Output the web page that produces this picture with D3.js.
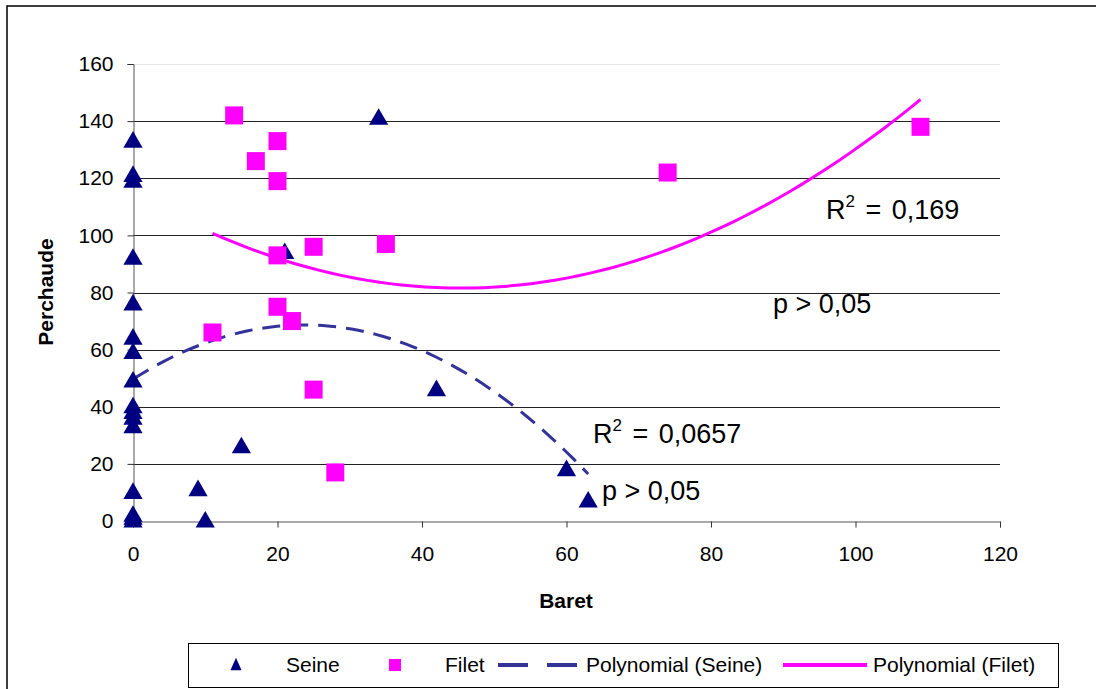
<!DOCTYPE html>
<html>
<head>
<meta charset="utf-8">
<script src="https://cdn.jsdelivr.net/npm/d3@7/dist/d3.min.js"></script>
<style>
  body { margin: 0; background: #fff; }
  text { font-family: "Liberation Sans", Arial, sans-serif; }
</style>
</head>
<body>
<svg id="chart" width="1096" height="689"></svg>
<script>
// Seine (triangles)
var seineX = [0, 0, 0, 0, 0, 0, 0, 0, 0, 0, 0, 0, 0, 0, 0, 0, 9, 10, 15, 21, 34, 42, 60, 63];
var seineY = [133, 121, 119, 92, 76, 64, 59, 49, 40, 38, 36, 33, 10, 2, 1, 0, 11, 0, 26, 94, 141, 46, 18, 7];
// Filet (squares)
var filetX = [14, 17, 20, 20, 20, 20, 22, 11, 25, 25, 28, 35, 74, 109];
var filetY = [142, 126, 133, 119, 93, 75, 70, 66, 96, 46, 17, 97, 122, 138];

var xTicks = [0, 20, 40, 60, 80, 100, 120];
var yTicks = [0, 20, 40, 60, 80, 100, 120, 140, 160];

var legendLabels = ["Seine", "Filet", "Polynomial (Seine)", "Polynomial (Filet)"];
var notes = ["R² = 0,169", "p > 0,05", "R² = 0,0657", "p > 0,05"];

var navy = "#000080", magenta = "#ff00ff", trendBlue = "#333399";

var svg = d3.select("#chart");

// outer frame
svg.append("path").attr("d", "M7,689V6H1096").attr("fill", "none")
  .attr("stroke", "#000").attr("stroke-width", 1.5);

var x = d3.scaleLinear().domain([0, 120]).range([133, 1000]);
var y = d3.scaleLinear().domain([0, 160]).range([521, 64]);

// gridlines
svg.append("g").selectAll("line").data(yTicks.filter(function (d) { return d > 0; }))
  .join("line")
  .attr("x1", 133).attr("x2", 1000)
  .attr("y1", function (d) { return Math.round(y(d)) + 0.5; })
  .attr("y2", function (d) { return Math.round(y(d)) + 0.5; })
  .attr("stroke", function (d) { return d == 160 ? "#e6e6e6" : "#222"; })
  .attr("stroke-width", 1);

// axes
var yAxis = svg.append("g").attr("transform", "translate(133.5,0)")
  .call(d3.axisLeft(y).tickValues(yTicks).tickSize(6).tickPadding(14).tickFormat(d3.format("d")));
var xAxis = svg.append("g").attr("transform", "translate(0,521.5)")
  .call(d3.axisBottom(x).tickValues(xTicks).tickSize(6).tickPadding(19).tickFormat(d3.format("d")));
[xAxis, yAxis].forEach(function (a) {
  a.select(".domain").attr("stroke", "#555");
  a.selectAll(".tick line").attr("stroke", "#333");
  a.selectAll("text").attr("font-size", 21).attr("fill", "#000")
    .attr("font-family", "Liberation Sans, Arial, sans-serif");
});

// axis titles
svg.append("text").attr("x", 566).attr("y", 608).attr("text-anchor", "middle")
  .attr("font-size", 21).attr("font-weight", "bold").text("Baret");
svg.append("text").attr("transform", "translate(53,292) rotate(-90)").attr("text-anchor", "middle")
  .attr("font-size", 21).attr("font-weight", "bold").text("Perchaude");

// quadratic least squares fit
function polyfit2(xs, ys) {
  var n = xs.length, s = [0, 0, 0, 0, 0], t = [0, 0, 0];
  for (var i = 0; i < n; i++) {
    var p = 1;
    for (var k = 0; k < 5; k++) { s[k] += p; if (k < 3) t[k] += p * ys[i]; p *= xs[i]; }
  }
  var A = [[s[0], s[1], s[2], t[0]], [s[1], s[2], s[3], t[1]], [s[2], s[3], s[4], t[2]]];
  for (var c = 0; c < 3; c++) {
    for (var r = c + 1; r < 3; r++) {
      var f = A[r][c] / A[c][c];
      for (var j = c; j < 4; j++) A[r][j] -= f * A[c][j];
    }
  }
  var b = [0, 0, 0];
  for (var r2 = 2; r2 >= 0; r2--) {
    var v = A[r2][3];
    for (var j2 = r2 + 1; j2 < 3; j2++) v -= A[r2][j2] * b[j2];
    b[r2] = v / A[r2][r2];
  }
  return b;
}

function trend(xs, ys) {
  var b = polyfit2(xs, ys);
  var lo = d3.min(xs), hi = d3.max(xs);
  return d3.range(0, 61).map(function (i) {
    var xv = lo + (hi - lo) * i / 60;
    return [xv, b[0] + b[1] * xv + b[2] * xv * xv];
  });
}

var line = d3.line().x(function (d) { return x(d[0]); }).y(function (d) { return y(d[1]); });

svg.append("path").datum(trend(seineX, seineY)).attr("d", line)
  .attr("fill", "none").attr("stroke", trendBlue).attr("stroke-width", 3)
  .attr("stroke-dasharray", "18,10");
svg.append("path").datum(trend(filetX, filetY)).attr("d", line)
  .attr("fill", "none").attr("stroke", magenta).attr("stroke-width", 3);

// markers
var tri = d3.symbol().type(d3.symbolTriangle).size(160);
svg.append("g").selectAll("path").data(d3.zip(seineX, seineY)).join("path")
  .attr("d", tri)
  .attr("transform", function (d) { return "translate(" + x(d[0]) + "," + (y(d[1]) + 1) + ")"; })
  .attr("fill", navy);
svg.append("g").selectAll("rect").data(d3.zip(filetX, filetY)).join("rect")
  .attr("x", function (d) { return x(d[0]) - 9; })
  .attr("y", function (d) { return y(d[1]) - 9; })
  .attr("width", 18).attr("height", 18).attr("fill", magenta);

// annotations
var notePos = [[826, 219], [773, 313], [593, 443], [602, 500]];
notes.forEach(function (t, i) {
  var el = svg.append("text").attr("x", notePos[i][0]).attr("y", notePos[i][1]).attr("font-size", 27);
  if (t.indexOf("²") >= 0) {
    el.append("tspan").text("R");
    el.append("tspan").attr("font-size", 17).attr("dy", -12).text("2");
    el.append("tspan").attr("dy", 12).attr("word-spacing", 3).text(t.slice(2));
  } else {
    el.text(t);
  }
});

// legend
var lg = svg.append("g");
lg.append("rect").attr("x", 188.5).attr("y", 643.5).attr("width", 870).attr("height", 44)
  .attr("fill", "#fff").attr("stroke", "#000").attr("stroke-width", 1);
var ly = 665;
lg.append("path").attr("d", d3.symbol().type(d3.symbolTriangle).size(75))
  .attr("transform", "translate(236," + (ly + 1) + ") scale(0.85,1.1)").attr("fill", navy);
lg.append("rect").attr("x", 389).attr("y", ly - 6).attr("width", 12).attr("height", 12).attr("fill", magenta);
lg.append("line").attr("x1", 498).attr("x2", 578).attr("y1", ly).attr("y2", ly)
  .attr("stroke", trendBlue).attr("stroke-width", 4).attr("stroke-dasharray", "30,19");
lg.append("line").attr("x1", 783).attr("x2", 867).attr("y1", ly).attr("y2", ly)
  .attr("stroke", magenta).attr("stroke-width", 4);
var lx = [286, 445, 586, 873];
legendLabels.forEach(function (t, i) {
  lg.append("text").attr("x", lx[i]).attr("y", ly + 7).attr("font-size", 21).text(t);
});
</script>
</body>
</html>
